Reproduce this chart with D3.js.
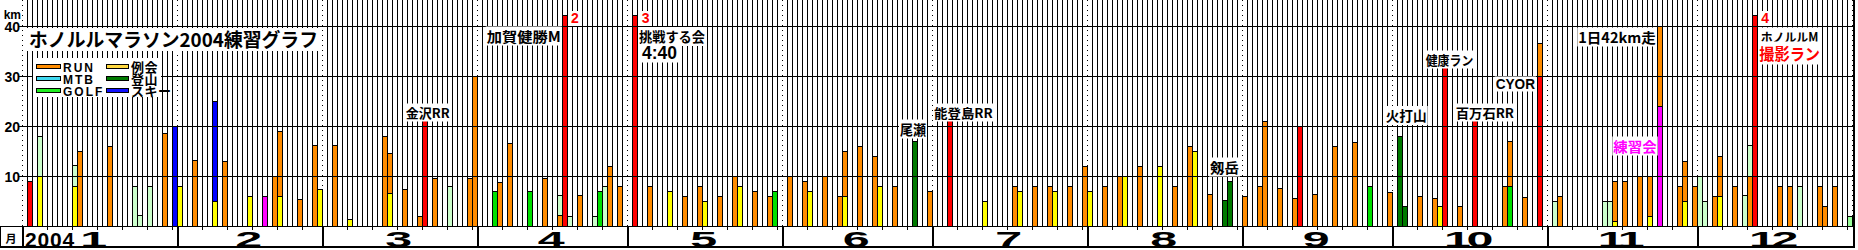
<!DOCTYPE html>
<html>
<head>
<meta charset="utf-8">
<script src="https://cdn.jsdelivr.net/npm/d3@7"></script>
<style>
body { margin: 0; background: #fff; }
text { font-family: "Noto Sans CJK JP", "Liberation Sans", sans-serif; font-weight: bold; }
.lat { font-family: "Liberation Sans", Arial, sans-serif; }
</style>
</head>
<body>
<script>
// daily km, "MM-DD"
const run = [
  ["01-12",15],["01-18",16],["01-29",18.6],["02-04",13.2],["02-10",13],["02-20",10],["02-21",13],["02-25",5.5],["02-28",16.2],
  ["03-03",16.2],["03-13",18],["03-14",8],["03-17",7.5],["03-20",2],["03-23",9.6],["03-30",9.6],["03-31",30],
  ["04-05",8.8],["04-07",16.6],["04-14",9.6],["04-17",2.2],["04-21",6.2],["04-27",12],["04-29",8],
  ["05-05",8],["05-12",6],["05-15",8],["05-19",6],["05-22",10],["05-26",7],["05-29",6],
  ["06-02",10],["06-05",9],["06-09",10],["06-12",6],["06-13",9],["06-16",16],["06-19",14],["06-23",8],["06-30",7],
  ["07-17",8],["07-21",8],["07-24",8],["07-28",8],["07-31",12],
  ["08-04",8],["08-07",10],["08-11",12],["08-18",8],["08-21",16],["08-25",6.4],
  ["09-01",6],["09-04",8],["09-05",21],["09-08",7.6],["09-11",5.6],["09-15",6.4],["09-19",16],["09-23",16.8],["09-30",6.8],
  ["10-06",6],["10-09",5.6],["10-14",4],["10-23",8],["10-24",9],["10-27",5.8],["10-30",6.6],
  ["11-03",6],["11-14",8],["11-16",9],["11-19",10],["11-21",8],["11-23",16],["11-27",8],["11-28",8],["11-30",8],
  ["12-04",6],["12-05",8],["12-08",8],["12-11",10],["12-17",8],["12-19",8],["12-25",8],["12-26",4],["12-28",8]
];
const reikai = [
  ["01-04",10],["01-11",8],["02-01",8],["02-08",5],["02-15",6],["02-21",6],["02-29",7.5],["03-06",1.4],["03-14",6.6],
  ["05-09",7],["05-16",5],["05-23",8],["06-06",7],["06-13",6],["06-20",8],["07-11",5],["07-18",7],["07-25",7],
  ["08-01",7],["08-08",10],["08-15",12],["08-22",15],["10-10",4],["11-14",1],["11-21",2],["11-28",5],["12-05",6]
];
const walk = [
  ["01-04",8],["01-11",4.3],["01-23",8],["01-24",2.2],["01-26",8],["03-26",8],["04-17",4],["04-19",2],["04-24",2],
  ["04-26",8],["11-02",5],["11-12",5],["11-13",5],["12-01",10],["12-02",5],["12-10",6.2],["12-11",6.2],["12-21",8]
];
const walk2 = [["12-31",2]];
const golf = [["04-04",7],["04-11",7],["04-25",7],["05-30",7],["09-26",8],["10-24",8]];
const tozan = [["06-27",17],["08-28",5.2],["08-29",9],["10-02",18],["10-03",4]];
const ski = [["01-31",20],["02-08",20]];
const mtb = [];
const race = [
  ["01-02",9],["03-21",21.3],["04-18",42.195],["05-02",42.195],["07-04",21.1],
  ["09-12",20],["10-11",32],["10-17",21.1],["10-30",30],["12-12",42.195]
];
const renshu = [["02-18",6],["11-23",24]];

const months = ["1","2","3","4","5","6","7","8","9","10","11","12"];
const yTicks = [10, 20, 30, 40];
const title = "ホノルルマラソン2004練習グラフ";
const legendItems = [["RUN","run"],["MTB","mtb"],["GOLF","golf"],["例会","reikai"],["登山","tozan"],["スキー","ski"]];
const notes = [
  ["03-21","金沢RR"],["04-18","2"],["04-18","加賀健勝M"],["05-02","3"],["05-02","挑戦する会"],["05-02","4:40"],
  ["06-27","尾瀬"],["07-04","能登島RR"],["08-29","剱岳"],["10-02","火打山"],["10-11","健康ラン"],["10-17","百万石RR"],
  ["10-30","CYOR"],["11-23","1日42km走"],["11-23","練習会"],["12-12","4"],["12-12","ホノルルM"],["12-12","撮影ラン"]
];

const colors = {
  run: "#ff8c00", reikai: "#ffff00", walk: "#ccffcc", walk2: "#99ff99", golf: "#00e000",
  tozan: "#007a00", ski: "#0000ff", mtb: "#00ffff", race: "#ff0000", renshu: "#ff00ff"
};
const legendColors = { run: "#ff8c00", mtb: "#40d8f0", golf: "#20ee20", reikai: "#ffd840", tozan: "#007a00", ski: "#1010ff" };

const W = 1858, H = 250;
const svg = d3.select("body").append("svg").attr("width", W).attr("height", H);

const t0 = new Date(Date.UTC(2004, 0, 1)), t1 = new Date(Date.UTC(2005, 0, 1));
const parse = s => new Date(Date.UTC(2004, +s.slice(0, 2) - 1, +s.slice(3)));
const x = d3.scaleUtc().domain([t0, t1]).range([22, 1852]);
const y = d3.scaleLinear().domain([0, 40]).range([226, 26]);

// vertical day lines (dotted at month starts)
const days = d3.utcDay.range(t0, t1).concat([t1]);
svg.append("g").selectAll("line").data(days).join("line")
  .attr("x1", d => x(d) + 0.5).attr("x2", d => x(d) + 0.5)
  .attr("y1", y(0)).attr("y2", 0)
  .attr("stroke", "#000").attr("stroke-width", 1)
  .attr("stroke-dasharray", d => d.getUTCDate() === 1 ? "1 4" : null);

// stacked bars
const order = [["reikai",reikai],["golf",golf],["tozan",tozan],["race",race],["renshu",renshu],
               ["run",run],["mtb",mtb],["walk",walk],["walk2",walk2],["ski",ski]];
const base = new Map();
const segs = [];
order.forEach(([key, arr]) => arr.forEach(([d, km]) => {
  const b = base.get(d) || 0;
  segs.push({ key, date: parse(d), y0: b, y1: b + km });
  base.set(d, b + km);
}));
svg.append("g").selectAll("rect").data(segs).join("rect")
  .attr("x", d => x(d.date) + 0.5)
  .attr("width", 5)
  .attr("y", d => Math.round(y(d.y1)) + 0.5)
  .attr("height", d => Math.round(y(d.y0)) - Math.round(y(d.y1)))
  .attr("fill", d => colors[d.key])
  .attr("stroke", "#000").attr("stroke-width", 1);

// horizontal grid lines on top of bars
svg.append("g").selectAll("line").data(yTicks).join("line")
  .attr("x1", 18).attr("x2", 1853)
  .attr("y1", d => y(d) + 0.5).attr("y2", d => y(d) + 0.5)
  .attr("stroke", "#000");

// y labels
svg.append("g").selectAll("text").data(yTicks).join("text")
  .attr("class", "lat").attr("x", 20).attr("y", d => y(d) + 6)
  .attr("text-anchor", "end").attr("font-size", 14).text(d => d);
svg.append("text").attr("class", "lat").attr("x", 21).attr("y", 19)
  .attr("text-anchor", "end").attr("font-size", 12).text("km");

// right border
svg.append("line").attr("x1", 1854).attr("x2", 1854).attr("y1", 0).attr("y2", 248)
  .attr("stroke", "#000").attr("stroke-width", 2);

// bottom month box
const axisG = svg.append("g");
axisG.append("rect").attr("x", 0.5).attr("y", 226.5).attr("width", 1853).attr("height", 20.5)
  .attr("fill", "#fff").attr("stroke", "#000");
axisG.append("line").attr("x1", 0).attr("x2", 1855).attr("y1", 247).attr("y2", 247)
  .attr("stroke", "#000").attr("stroke-width", 2);
const monthStarts = d3.utcMonth.range(t0, t1);
axisG.selectAll("line.mdiv").data(monthStarts).join("line").attr("class", "mdiv")
  .attr("x1", d => x(d) + 1).attr("x2", d => x(d) + 1).attr("y1", 226).attr("y2", 248)
  .attr("stroke", "#000").attr("stroke-width", 2);
const tickDays = days.filter(d => d.getUTCDate() > 1 && (d.getUTCDate() - 1) % 5 === 0);
axisG.selectAll("line.tk").data(tickDays).join("line").attr("class", "tk")
  .attr("x1", d => x(d) + 0.5).attr("x2", d => x(d) + 0.5).attr("y1", 226).attr("y2", 230)
  .attr("stroke", "#000");
axisG.selectAll("text.mon").data(months).join("text").attr("class", "lat mon")
  .attr("font-size", 22).attr("letter-spacing", -2).attr("text-anchor", "middle")
  .attr("transform", (d, i) => {
    const a = x(monthStarts[i]), b = x(d3.utcMonth.offset(monthStarts[i], 1));
    const cx = (a + b) / 2 - (i === 0 ? 8 : 3);
    return `translate(${cx},246.5) scale(2.2,1)`;
  })
  .text(d => d);
axisG.append("text").attr("class", "lat").attr("x", 25).attr("y", 246.5)
  .attr("font-size", 21).attr("letter-spacing", 0.8).text("2004");
axisG.append("text").attr("x", 11).attr("y", 243).attr("text-anchor", "middle")
  .attr("font-size", 11).text("月");

// title
svg.append("rect").attr("x", 26).attr("y", 28).attr("width", 294).attr("height", 23).attr("fill", "#fff");
svg.append("text").attr("x", 29).attr("y", 46.5).attr("font-size", 19)
  .attr("textLength", 289).attr("lengthAdjust", "spacingAndGlyphs").text(title);

// legend
const lg = svg.append("g");
lg.append("rect").attr("x", 33).attr("y", 58).attr("width", 128).attr("height", 39).attr("fill", "#fff");
legendItems.forEach(([label, key], i) => {
  const col = Math.floor(i / 3), row = i % 3;
  const cy = 67 + row * 12;
  const sx = col ? 106 : 36, sw = col ? 22 : 24;
  lg.append("rect").attr("x", sx + 0.5).attr("y", cy - 2.5).attr("width", sw).attr("height", 4)
    .attr("fill", legendColors[key]).attr("stroke", "#000");
  const latin = /^[A-Z]+$/.test(label);
  lg.append("text").attr("class", latin ? "lat" : null)
    .attr("x", sx + sw + 3).attr("y", cy + 4.7)
    .attr("font-size", latin ? 12 : 13).attr("letter-spacing", latin ? 2 : 0.5).text(label);
});

// annotations: [anchor dx from bar left, baseline km, font size, width, colour]
const noteLayout = [
  [-16.3, 21.7, 13, 44, "#000"],
  [9, 40.6, 14, 0, "#f00"],
  [-75.3, 36.9, 14, 74, "#000"],
  [9.7, 40.6, 14, 0, "#f00"],
  [7, 36.8, 14, 66, "#000"],
  [10, 33.5, 18, 35, "#000"],
  [-12, 18.3, 14, 26, "#000"],
  [-13, 21.7, 13, 58.7, "#000"],
  [-17, 10.7, 14, 29, "#000"],
  [-11.3, 21, 14, 41, "#000"],
  [-16.3, 32.3, 13, 47.6, "#000"],
  [-16.3, 21.7, 13, 58.3, "#000"],
  [-41.3, 27.5, 14, 39.3, "#000"],
  [-78.7, 36.7, 14, 77.4, "#000"],
  [-43.7, 14.9, 14, 43.4, "#f0f"],
  [9.3, 40.6, 14, 0, "#f00"],
  [8.7, 36.9, 13, 57.6, "#000"],
  [7.3, 33.3, 16, 60.7, "#f00"]
];
const ng = svg.append("g");
notes.forEach(([d, txt], i) => {
  const [dx, km, fs, w, col] = noteLayout[i];
  const g = ng.append("g");
  const latin = /^[0-9A-Z:]+$/.test(txt);
  const t = g.append("text").attr("class", latin ? "lat" : null)
    .attr("x", x(parse(d)) + dx).attr("y", y(km))
    .attr("font-size", fs).attr("fill", col).text(txt);
  if (w) t.attr("textLength", w).attr("lengthAdjust", "spacingAndGlyphs");
  const bb = t.node().getBBox();
  g.insert("rect", "text").attr("x", bb.x - 1).attr("y", bb.y + 1)
    .attr("width", bb.width + 2).attr("height", bb.height - 1).attr("fill", "#fff");
});
</script>
</body>
</html>
